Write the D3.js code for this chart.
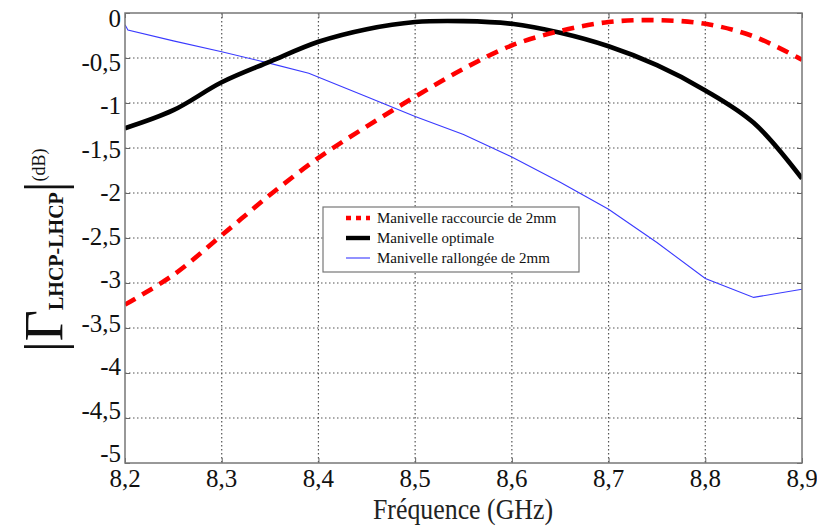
<!DOCTYPE html>
<html><head><meta charset="utf-8">
<script src="https://cdn.jsdelivr.net/npm/d3@7"></script>
<style>body{margin:0;background:#fff}svg{display:block}</style>
</head><body>
<svg id="c" width="817" height="526" font-family="Liberation Serif, DejaVu Serif, serif"></svg>
<script>
const freq = [8.2, 8.25, 8.3, 8.35, 8.4, 8.45, 8.5, 8.55, 8.6, 8.65, 8.7, 8.75, 8.8, 8.85, 8.9];
const raccourcie = [-3.24, -2.91, -2.47, -2.02, -1.61, -1.26, -0.93, -0.62, -0.36, -0.2, -0.1, -0.08, -0.12, -0.26, -0.52];
const optimale = [-1.28, -1.08, -0.77, -0.54, -0.32, -0.18, -0.1, -0.09, -0.12, -0.22, -0.37, -0.58, -0.86, -1.22, -1.84];
const freqRall = [8.2, 8.203, 8.25, 8.3, 8.35, 8.39, 8.45, 8.5, 8.55, 8.6, 8.65, 8.7, 8.75, 8.8, 8.85, 8.9];
const rallongee = [-0.13, -0.19, -0.31, -0.43, -0.56, -0.67, -0.93, -1.15, -1.35, -1.6, -1.88, -2.18, -2.55, -2.95, -3.16, -3.07];
const xTicks = [8.2, 8.3, 8.4, 8.5, 8.6, 8.7, 8.8, 8.9];
const yTicks = [0, -0.5, -1, -1.5, -2, -2.5, -3, -3.5, -4, -4.5, -5];
const legendLabels = ["Manivelle raccourcie de 2mm", "Manivelle optimale", "Manivelle rallongée de 2mm"];

const svg = d3.select("#c");
const L = 125, R = 802, T = 13, B = 463;
const x = d3.scaleLinear().domain([8.2, 8.9]).range([L, R]);
const y = d3.scaleLinear().domain([-5, 0]).range([B, T]);
const yLab = d3.scaleLinear().domain([-5, 0]).range([462, 27]);
const fmt = d => String(d).replace(".", ",");
const serif = "Liberation Serif";

// grid
const g = svg.append("g");
g.selectAll(".gx").data(xTicks.slice(1, -1)).enter().append("line")
  .attr("x1", d => x(d)).attr("x2", d => x(d)).attr("y1", T).attr("y2", B)
  .attr("stroke", "#555").attr("stroke-width", 1.2).attr("stroke-dasharray", "1.5,2.5");
g.selectAll(".gy").data(yTicks.slice(1, -1)).enter().append("line")
  .attr("y1", d => y(d)).attr("y2", d => y(d)).attr("x1", L).attr("x2", R)
  .attr("stroke", "#555").attr("stroke-width", 1.2).attr("stroke-dasharray", "1.5,2.5");

// ticks (inward, all sides)
const tickStyle = a => { a.select(".domain").remove(); a.selectAll("line").attr("stroke", "#666"); };
svg.append("g").attr("transform", `translate(0,${B})`)
  .call(d3.axisBottom(x).tickValues(xTicks).tickSizeInner(-5).tickSizeOuter(0).tickFormat("")).call(tickStyle);
svg.append("g").attr("transform", `translate(0,${T})`)
  .call(d3.axisTop(x).tickValues(xTicks).tickSizeInner(-5).tickSizeOuter(0).tickFormat("")).call(tickStyle);
svg.append("g").attr("transform", `translate(${L},0)`)
  .call(d3.axisLeft(y).tickValues(yTicks).tickSizeInner(-5).tickSizeOuter(0).tickFormat("")).call(tickStyle);
svg.append("g").attr("transform", `translate(${R},0)`)
  .call(d3.axisRight(y).tickValues(yTicks).tickSizeInner(-5).tickSizeOuter(0).tickFormat("")).call(tickStyle);

// tick labels
svg.append("g").selectAll("text").data(xTicks).enter().append("text")
  .attr("x", d => x(d)).attr("y", 487).attr("text-anchor", "middle")
  .attr("font-family", serif).attr("font-size", 25).attr("fill", "#111").text(fmt);
svg.append("g").selectAll("text").data(yTicks).enter().append("text")
  .attr("x", 121).attr("y", d => yLab(d)).attr("text-anchor", "end")
  .attr("font-family", serif).attr("font-size", 25).attr("fill", "#111").text(fmt);

// lines
svg.append("clipPath").attr("id", "pc").append("rect")
  .attr("x", L).attr("y", T - 3).attr("width", R - L).attr("height", B - T + 3);
const line = d3.line().x(d => x(d[0])).y(d => y(d[1]));
const plot = svg.append("g").attr("clip-path", "url(#pc)");
plot.append("path").datum(freqRall.map((f, i) => [f, rallongee[i]]))
  .attr("d", line).attr("fill", "none").attr("stroke", "#3a3aff").attr("stroke-width", 1.1);
const smooth = d3.line().x(d => x(d[0])).y(d => y(d[1])).curve(d3.curveCatmullRom);
plot.append("path").datum(freq.map((f, i) => [f, optimale[i]]))
  .attr("d", smooth).attr("fill", "none").attr("stroke", "#000").attr("stroke-width", 4.6);
plot.append("path").datum(freq.map((f, i) => [f, raccourcie[i]]))
  .attr("d", smooth).attr("fill", "none").attr("stroke", "#ff0000")
  .attr("stroke-width", 4.6).attr("stroke-dasharray", "12,8");

// frame
svg.append("rect").attr("x", L).attr("y", T).attr("width", R - L).attr("height", B - T)
  .attr("fill", "none").attr("stroke", "#777").attr("stroke-width", 1.5);

// legend
const lg = svg.append("g");
lg.append("rect").attr("x", 323).attr("y", 207).attr("width", 256).attr("height", 65)
  .attr("fill", "#fff").attr("stroke", "#777").attr("stroke-width", 1.2);
const styles = [
  {c: "#ff0000", w: 4.5, da: "5,5"},
  {c: "#000", w: 4.4, da: null},
  {c: "#3a3aff", w: 1.1, da: null}
];
legendLabels.forEach((t, i) => {
  const yy = 218 + i * 20;
  lg.append("line").attr("x1", 346).attr("x2", 370).attr("y1", yy).attr("y2", yy)
    .attr("stroke", styles[i].c).attr("stroke-width", styles[i].w)
    .attr("stroke-dasharray", styles[i].da);
  lg.append("text").attr("x", 377).attr("y", yy + 5).attr("font-family", serif)
    .attr("font-size", 15).attr("fill", "#111").text(t);
});

// axis titles
svg.append("text").attr("x", 463).attr("y", 519).attr("text-anchor", "middle")
  .attr("font-family", serif).attr("font-size", 29).attr("fill", "#222")
  .attr("textLength", 180).attr("lengthAdjust", "spacingAndGlyphs").text("Fréquence (GHz)");

const yt = svg.append("text").attr("transform", "rotate(-90)").attr("font-family", serif)
  .attr("x", -352).attr("y", 62).attr("fill", "#111");
yt.append("tspan").attr("font-size", 54).text("|Γ");
yt.append("tspan").attr("font-size", 20).attr("font-weight", "bold").attr("dy", 1).text("LHCP-LHCP");
yt.append("tspan").attr("font-size", 54).attr("dy", -1).text("|");
yt.append("tspan").attr("font-size", 18).attr("dy", -17).text("(dB)");
</script>
</body></html>
